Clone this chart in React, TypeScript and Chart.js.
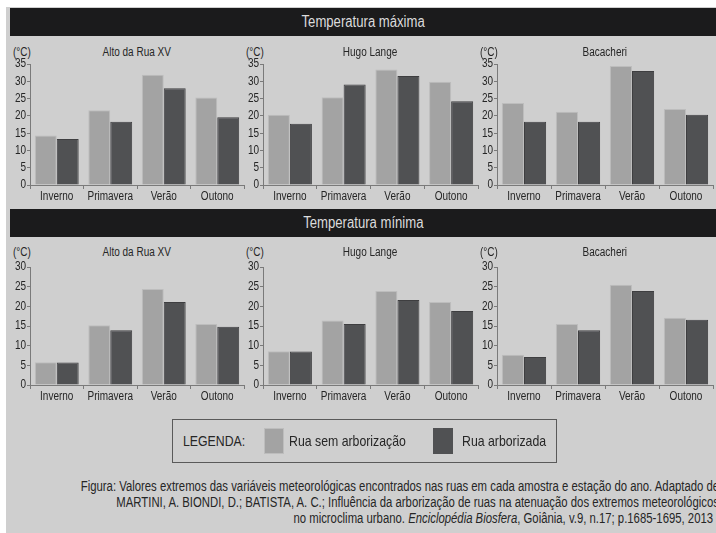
import React, { useEffect, useRef } from "react";
import { Chart, registerables } from "chart.js";

Chart.register(...registerables);

// ---------- data ----------
const seasons = ["Inverno", "Primavera", "Verão", "Outono"];
const stations = ["Alto da Rua XV", "Hugo Lange", "Bacacheri"];
const seriesNames = ["Rua sem arborização", "Rua arborizada"];
const maxAxisTop = 35;
const minAxisTop = 30;
const axisStep = 5;

// Temperatura máxima
const altoMaxSem = [14.3, 21.6, 31.9, 25.3];
const altoMaxArb = [13.3, 18.3, 28.0, 19.6];
const hugoMaxSem = [20.3, 25.4, 33.4, 29.9];
const hugoMaxArb = [17.7, 29.1, 31.5, 24.2];
const bacaMaxSem = [23.7, 21.2, 34.4, 22.0];
const bacaMaxArb = [18.3, 18.3, 33.0, 20.3];

// Temperatura mínima
const altoMinSem = [5.8, 15.2, 24.4, 15.5];
const altoMinArb = [5.7, 13.9, 21.1, 14.8];
const hugoMinSem = [8.6, 16.4, 23.9, 21.1];
const hugoMinArb = [8.5, 15.5, 21.6, 18.8];
const bacaMinSem = [7.7, 15.5, 25.5, 17.1];
const bacaMinArb = [7.1, 13.9, 23.9, 16.6];

// ---------- styles ----------
const SANS = "'Liberation Sans', Arial, sans-serif";
const SQUEEZE = 0.8;
const BG = "#cfcfcf";
const GRAY = "#a3a3a3";
const GRAY_EDGE = "#bdbdbd";
const DARK = "#505153";
const DARK_EDGE = "#3e3e40";
const AXIS = "#7a7a7a";
const TEXT = "#262626";

// draws every canvas text horizontally condensed (Arial Narrow look)
const narrowText = {
  id: "narrowText",
  beforeDraw(chart: any) {
    const ctx: any = chart.ctx;
    if (ctx.__narrow) return;
    const orig = ctx.fillText;
    ctx.fillText = function (text: string, x: number, y: number) {
      this.save();
      this.translate(x, y);
      this.scale(SQUEEZE, 1);
      orig.call(this, text, 0, 0);
      this.restore();
    };
    ctx.__narrow = true;
  },
};

type PanelProps = {
  left: number;
  top: number;
  width: number;
  height: number;
  padRight: number;
  axisMax: number;
  sem: number[];
  arb: number[];
};

function BarPanel({ left, top, width, height, padRight, axisMax, sem, arb }: PanelProps) {
  const ref = useRef<HTMLCanvasElement | null>(null);
  useEffect(() => {
    if (!ref.current) return;
    const chart = new Chart(ref.current, {
      type: "bar",
      data: {
        labels: seasons,
        datasets: [
          {
            label: seriesNames[0],
            data: sem,
            backgroundColor: GRAY,
            borderColor: GRAY_EDGE,
            borderWidth: 1,
            barPercentage: 1,
            categoryPercentage: 0.82,
          },
          {
            label: seriesNames[1],
            data: arb,
            backgroundColor: DARK,
            borderColor: DARK_EDGE,
            borderWidth: 1,
            barPercentage: 1,
            categoryPercentage: 0.82,
          },
        ],
      },
      plugins: [narrowText],
      options: {
        responsive: false,
        animation: false,
        devicePixelRatio: 1,
        layout: { padding: { top: 10, right: padRight, left: 0, bottom: 0 } },
        plugins: { legend: { display: false }, tooltip: { enabled: false }, title: { display: false } },
        scales: {
          x: {
            grid: { display: true, drawOnChartArea: false, drawTicks: true, tickLength: 4, color: AXIS, offset: true },
            border: { display: true, color: AXIS, width: 1 },
            ticks: { color: TEXT, padding: 0, font: { family: SANS, size: 12.5 }, maxRotation: 0, autoSkip: false },
            afterFit: (s: any) => {
              s.height = 22;
            },
          },
          y: {
            min: 0,
            max: axisMax,
            grid: { display: true, drawOnChartArea: false, drawTicks: true, tickLength: 3, color: AXIS },
            border: { display: true, color: AXIS, width: 1 },
            ticks: {
              stepSize: axisStep,
              autoSkip: false,
              color: TEXT,
              padding: 1,
              font: { family: SANS, size: 12.5 },
            },
            afterFit: (s: any) => {
              s.width = 30;
            },
          },
        },
      },
    });
    return () => chart.destroy();
  }, []);
  return (
    <canvas
      ref={ref}
      width={width}
      height={height}
      style={{ position: "absolute", left, top, width, height }}
    />
  );
}

function Label({
  x,
  y,
  text,
  align = "center",
  size = 12.5,
  squeeze = SQUEEZE,
}: {
  x: number;
  y: number;
  text: React.ReactNode;
  align?: "left" | "center" | "right";
  size?: number;
  squeeze?: number;
}) {
  const style: React.CSSProperties = {
    position: "absolute",
    top: y - size * 0.6,
    fontFamily: SANS,
    fontSize: size,
    lineHeight: `${size * 1.2}px`,
    color: TEXT,
    whiteSpace: "nowrap",
  };
  if (align === "center") {
    style.left = x - 200;
    style.width = 400;
    style.textAlign = "center";
  } else if (align === "right") {
    style.left = x - 900;
    style.width = 900;
    style.textAlign = "right";
  } else {
    style.left = x;
  }
  return (
    <div style={style}>
      <span style={{ display: "inline-block", transform: `scaleX(${squeeze})`, transformOrigin: align }}>{text}</span>
    </div>
  );
}

function Header({ top, text }: { top: number; text: string }) {
  return (
    <div
      style={{
        position: "absolute",
        left: 10,
        top,
        width: 706,
        height: 28,
        background: "#1b1b1c",
        color: "#dcdcdc",
        fontFamily: SANS,
        fontSize: 16,
        lineHeight: "28px",
        textAlign: "center",
      }}
    >
      <span style={{ display: "inline-block", transform: "scaleX(0.82)" }}>{text}</span>
    </div>
  );
}

const colLefts = [0, 233, 467];
const colWidths = [246, 247, 249];
const colPadRight = [2, 2, 3];
const plotLefts = [30, 263, 497];
const plotCenters = [137, 370, 605];

export default function App() {
  const maxRows = [
    [altoMaxSem, altoMaxArb],
    [hugoMaxSem, hugoMaxArb],
    [bacaMaxSem, bacaMaxArb],
  ];
  const minRows = [
    [altoMinSem, altoMinArb],
    [hugoMinSem, hugoMinArb],
    [bacaMinSem, bacaMinArb],
  ];
  return (
    <div style={{ position: "fixed", left: 0, top: 0, width: 716, height: 533, overflow: "hidden", background: "#ffffff" }}>
      <div style={{ position: "absolute", left: 6, top: 7, width: 710, height: 526, background: BG }} />
      <Header top={8} text="Temperatura máxima" />
      <Header top={209} text="Temperatura mínima" />

      {maxRows.map((pair, i) => (
        <React.Fragment key={"max" + i}>
          <Label x={plotLefts[i] - 17} y={52} text="(°C)" align="left" />
          <Label x={plotCenters[i]} y={52} text={stations[i]} />
          <BarPanel
            left={colLefts[i]}
            top={54}
            width={colWidths[i]}
            height={153}
            padRight={colPadRight[i]}
            axisMax={maxAxisTop}
            sem={pair[0]}
            arb={pair[1]}
          />
        </React.Fragment>
      ))}

      {minRows.map((pair, i) => (
        <React.Fragment key={"min" + i}>
          <Label x={plotLefts[i] - 17} y={252} text="(°C)" align="left" />
          <Label x={plotCenters[i]} y={252} text={stations[i]} />
          <BarPanel
            left={colLefts[i]}
            top={257}
            width={colWidths[i]}
            height={150}
            padRight={colPadRight[i]}
            axisMax={minAxisTop}
            sem={pair[0]}
            arb={pair[1]}
          />
        </React.Fragment>
      ))}

      {/* legend */}
      <div
        style={{
          position: "absolute",
          left: 172,
          top: 419,
          width: 383,
          height: 42,
          border: "1px solid #5a5a5a",
        }}
      />
      <Label x={183} y={441} text="LEGENDA:" align="left" size={15} squeeze={0.82} />
      <div style={{ position: "absolute", left: 264, top: 428, width: 20, height: 26, background: GRAY, boxShadow: `inset 0 0 0 1px ${GRAY_EDGE}` }} />
      <Label x={289} y={441} text={seriesNames[0]} align="left" size={15} squeeze={0.82} />
      <div style={{ position: "absolute", left: 433, top: 428, width: 20, height: 26, background: DARK }} />
      <Label x={462} y={441} text={seriesNames[1]} align="left" size={15} squeeze={0.82} />

      {/* caption */}
      <Label
        x={719}
        y={486}
        size={14}
        squeeze={0.81}
        align="right"
        text="Figura: Valores extremos das variáveis meteorológicas encontrados nas ruas em cada amostra e estação do ano. Adaptado de"
      />
      <Label
        x={719}
        y={502}
        size={14}
        squeeze={0.81}
        align="right"
        text="MARTINI, A. BIONDI, D.; BATISTA, A. C.; Influência da arborização de ruas na atenuação dos extremos meteorológicos"
      />
      <Label
        x={713}
        y={518}
        size={14}
        squeeze={0.81}
        align="right"
        text={
          <>
            no microclima urbano. <i>Enciclopédia Biosfera</i>, Goiânia, v.9, n.17; p.1685-1695, 2013
          </>
        }
      />
    </div>
  );
}
